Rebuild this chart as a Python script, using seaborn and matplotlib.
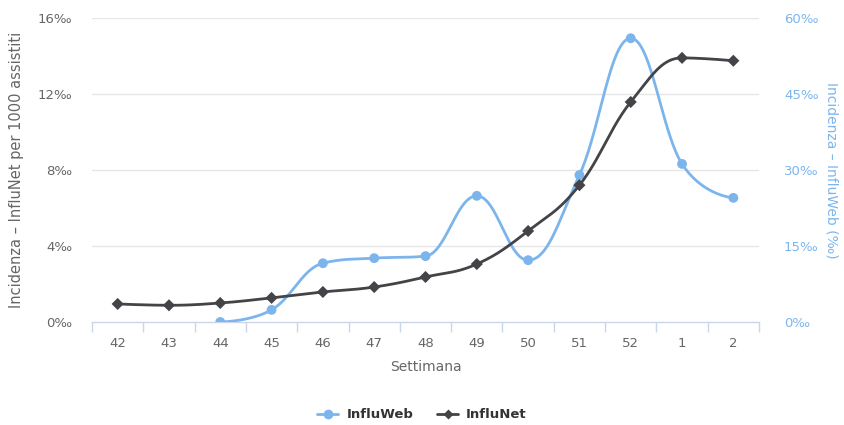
import numpy as np
import matplotlib
matplotlib.use('Agg')
import matplotlib.pyplot as plt
import seaborn as sns
from matplotlib.lines import Line2D

# Data
settimane = ['42', '43', '44', '45', '46', '47', '48', '49', '50', '51', '52', '1', '2']
influnet = [0.95, 0.88, 1.0, 1.27, 1.58, 1.84, 2.37, 3.05, 4.79, 7.2, 11.58, 13.9, 13.75]
influweb_idx = [2, 3, 4, 5, 6, 7, 8, 9, 10, 11, 12]  # InfluWeb starts at week 44
influweb = [0.0, 2.4, 11.6, 12.6, 13.0, 24.9, 12.2, 29.0, 56.0, 31.2, 24.5]

BLUE = '#7cb5ec'
DARK = '#434348'
GRID = '#e6e6e6'
AXIS = '#ccd6eb'
LABEL = '#666666'


def spline(xs, ys, smoothing=1.5, n=40):
    # Highcharts-like spline: cubic bezier with smoothed control points
    xs = list(map(float, xs))
    ys = list(map(float, ys))
    m = len(xs)
    left = [None] * m
    right = [None] * m
    for i in range(m):
        if i == 0 or i == m - 1:
            left[i] = (xs[i], ys[i])
            right[i] = (xs[i], ys[i])
            continue
        d = smoothing + 1
        lx = (smoothing * xs[i] + xs[i - 1]) / d
        ly = (smoothing * ys[i] + ys[i - 1]) / d
        rx = (smoothing * xs[i] + xs[i + 1]) / d
        ry = (smoothing * ys[i] + ys[i + 1]) / d
        if rx != lx:
            corr = (ry - ly) * (rx - xs[i]) / (rx - lx) + ys[i] - ry
            ly += corr
            ry += corr
        if ly > ys[i - 1] and ly > ys[i]:
            ly = max(ys[i - 1], ys[i])
            ry = 2 * ys[i] - ly
        elif ly < ys[i - 1] and ly < ys[i]:
            ly = min(ys[i - 1], ys[i])
            ry = 2 * ys[i] - ly
        if ry > ys[i + 1] and ry > ys[i]:
            ry = max(ys[i + 1], ys[i])
            ly = 2 * ys[i] - ry
        elif ry < ys[i + 1] and ry < ys[i]:
            ry = min(ys[i + 1], ys[i])
            ly = 2 * ys[i] - ry
        left[i] = (lx, ly)
        right[i] = (rx, ry)
    outx, outy = [xs[0]], [ys[0]]
    t = np.linspace(0, 1, n)[1:]
    for i in range(1, m):
        p0 = np.array([xs[i - 1], ys[i - 1]])
        p1 = np.array(right[i - 1])
        p2 = np.array(left[i])
        p3 = np.array([xs[i], ys[i]])
        pts = ((1 - t) ** 3)[:, None] * p0 + (3 * (1 - t) ** 2 * t)[:, None] * p1 \
            + (3 * (1 - t) * t ** 2)[:, None] * p2 + (t ** 3)[:, None] * p3
        outx.extend(pts[:, 0])
        outy.extend(pts[:, 1])
    return np.array(outx), np.array(outy)


sns.set_theme(style='white')
plt.rcParams['font.family'] = ['DejaVu Sans']

fig = plt.figure(figsize=(8.44, 4.25), dpi=100)
ax = fig.add_axes([92 / 844, 103 / 425, 667 / 844, 304 / 425])
ax2 = ax.twinx()

net_x = np.arange(len(settimane))

# grid lines
for v in [4, 8, 12, 16]:
    ax.axhline(v, color=GRID, lw=1, zorder=0)

# InfluWeb on the right axis
wx, wy = spline(influweb_idx, influweb)
ax2.plot(wx, wy, color=BLUE, lw=2, zorder=3, solid_capstyle='round')
sns.scatterplot(x=influweb_idx, y=influweb, ax=ax2, color=BLUE, s=50,
                marker='o', edgecolor='none', zorder=4)

# InfluNet on the left axis (drawn in right-axis units, scale 60/16)
nx, ny = spline(net_x, influnet)
ax2.plot(nx, np.array(ny) * 60 / 16, color=DARK, lw=2, zorder=5)
sns.scatterplot(x=net_x, y=np.array(influnet) * 60 / 16, ax=ax2, color=DARK,
                s=38, marker='D', edgecolor='none', zorder=6)

ax.set_xlim(-0.5, len(settimane) - 0.5)
ax.set_ylim(0, 16)
ax2.set_ylim(0, 60)

ax.set_xticks(net_x)
ax.set_xticklabels(settimane)
ax.set_xticks(np.arange(-0.5, len(settimane)), minor=True)
ax.tick_params(axis='x', which='major', length=0, pad=11, labelsize=9.5, labelcolor=LABEL)
ax.tick_params(axis='x', which='minor', length=7, width=1, color=AXIS, direction='out', bottom=True)

ax.set_yticks([0, 4, 8, 12, 16])
ax.set_yticklabels(['0‰', '4‰', '8‰', '12‰', '16‰'])
ax.tick_params(axis='y', length=0, pad=14, labelsize=9.5, labelcolor=LABEL)
ax2.set_yticks([0, 15, 30, 45, 60])
ax2.set_yticklabels(['0‰', '15‰', '30‰', '45‰', '60‰'])
ax2.tick_params(axis='y', length=0, pad=18, labelsize=9.5, labelcolor=BLUE)

for a in (ax, ax2):
    for s in ['top', 'left', 'right']:
        a.spines[s].set_visible(False)
    a.spines['bottom'].set_color(AXIS)
    a.spines['bottom'].set_linewidth(1)
    a.set_xlabel('')
ax2.spines['bottom'].set_visible(False)

ax.set_xlabel('Settimana', fontsize=10, color=LABEL, labelpad=7)
ax.set_ylabel('Incidenza – InfluNet per 1000 assistiti', fontsize=10.5, color=LABEL, labelpad=10)
ax2.set_ylabel('Incidenza – InfluWeb (‰)', fontsize=10, color=BLUE, rotation=270, labelpad=14)

handles = [
    Line2D([0], [0], color=BLUE, lw=2, marker='o', markersize=7, markeredgecolor='none'),
    Line2D([0], [0], color=DARK, lw=2, marker='D', markersize=5, markeredgecolor='none'),
]
fig.legend(handles, ['InfluWeb', 'InfluNet'], loc='center', bbox_to_anchor=(0.5, 10 / 425),
           ncol=2, frameon=False, prop={'size': 9.5, 'weight': 'bold'}, handlelength=1.6,
           columnspacing=1.8, handletextpad=0.6, labelcolor='#333333')

fig.savefig('out.png', dpi=100)
